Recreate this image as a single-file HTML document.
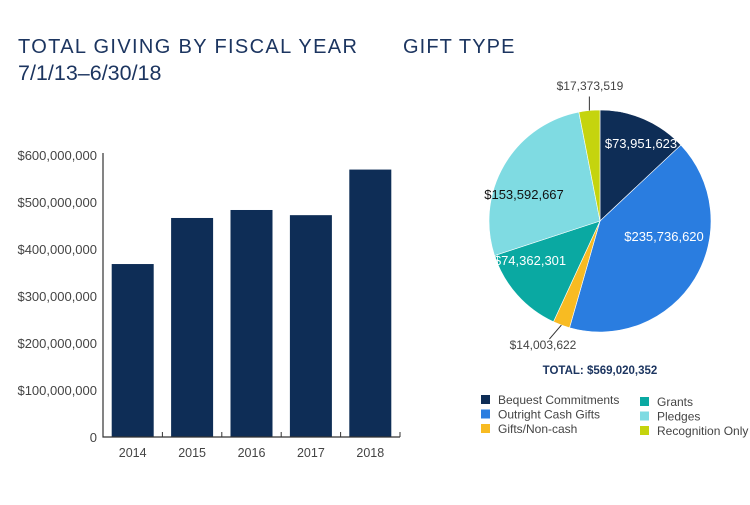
<!DOCTYPE html>
<html><head><meta charset="utf-8"><style>
body{margin:0;width:750px;height:500px;background:#fff;overflow:hidden;font-family:"Liberation Sans",sans-serif}
</style></head><body>
<svg width="750" height="500" style="font-family:'Liberation Sans',sans-serif">
<text x="18" y="53" font-size="20" fill="#1c3560" letter-spacing="1.35">TOTAL GIVING BY FISCAL YEAR</text>
<text x="18" y="80" font-size="21.5" fill="#1c3560">7/1/13–6/30/18</text>
<text x="403" y="53" font-size="20" fill="#1c3560" letter-spacing="1.1">GIFT TYPE</text>
<g id="bars"></g>
<g id="pie"></g>
<text x="600" y="374" font-size="11.5" font-weight="bold" fill="#1c3560" text-anchor="middle">TOTAL: $569,020,352</text>
<g id="legend"></g>
</svg>
<script>
const years=["2014","2015","2016","2017","2018"];
const totals=[368,466,483,472,569];
const yTicks=[0,100,200,300,400,500,600];
const yTickLabels=["0","$100,000,000","$200,000,000","$300,000,000","$400,000,000","$500,000,000","$600,000,000"];
const giftTypes=["Bequest Commitments","Outright Cash Gifts","Gifts/Non-cash","Grants","Pledges","Recognition Only"];
const giftValues=[73951623,235736620,14003622,74362301,153592667,17373519];
const giftLabels=["$73,951,623","$235,736,620","$14,003,622","$74,362,301","$153,592,667","$17,373,519"];
const giftColors=["#0e2d56","#2a7de0","#f8bb22","#0aa9a2","#7fdbe2","#c5d40e"];
const NS="http://www.w3.org/2000/svg";
function mk(t,a,p,txt){const e=document.createElementNS(NS,t);for(const k in a)e.setAttribute(k,a[k]);if(txt!==undefined)e.textContent=txt;p.appendChild(e);return e;}
const y0=437,yTop=155,xL=103,xR=400;
const ys=v=>y0-(v/600)*(y0-yTop);
const band=(xR-xL)/years.length;
const xc=i=>xL+band*(i+0.5);
const bars=document.getElementById('bars');
yTicks.forEach((t,i)=>{const l=mk('text',{x:97,y:ys(t)+5,'font-size':13,fill:'#444','text-anchor':'end'},bars,yTickLabels[i]);

});
totals.forEach((v,i)=>{const r=mk('rect',{x:xc(i)-21,y:ys(v),width:42,height:y0-ys(v),fill:'#0e2d56'},bars);


const l=mk('text',{x:xc(i),y:457,'font-size':12.5,fill:'#444','text-anchor':'middle'},bars,years[i]);


if(i>0){mk('line',{x1:xL+band*i,x2:xL+band*i,y1:y0,y2:y0-5,stroke:'#333','stroke-width':1},bars);}
});
mk('line',{x1:xR,x2:xR,y1:y0,y2:y0-5,stroke:'#333'},bars);
const ax=mk('path',{d:`M${xL} ${yTop-2}V${y0}H${xR}`,fill:'none',stroke:'#333','stroke-width':1.2},bars);


const pie=document.getElementById('pie');
const cx=600,cy=221,R=111;
const sum=giftValues.reduce((a,b)=>a+b,0);
let a0=0;
const pt=(a,r)=>[cx+r*Math.sin(a),cy-r*Math.cos(a)];
const mids=[];
giftValues.forEach((v,i)=>{const a1=a0+v/sum*2*Math.PI;const [x0,y0_]=pt(a0,R),[x1,y1]=pt(a1,R);
const p=mk('path',{d:`M${cx} ${cy}L${x0} ${y0_}A${R} ${R} 0 ${a1-a0>Math.PI?1:0} 1 ${x1} ${y1}Z`,fill:giftColors[i],stroke:'#fff','stroke-width':0.6},pie);


mids.push((a0+a1)/2);a0=a1;});
const inside=[[641,148,'#fff'],[664,241,'#fff'],[530,265,'#fff'],[524,199,'#111']];
[[0,0],[1,1],[3,2],[4,3]].forEach(([gi,k])=>{const t=mk('text',{x:inside[k][0],y:inside[k][1],'font-size':13,fill:inside[k][2],'text-anchor':'middle'},pie,giftLabels[gi]);

});
let [lx,ly]=pt(mids[2],R);
mk('line',{x1:lx,y1:ly,x2:lx-12,y2:ly+14,stroke:'#333'},pie);
let t1=mk('text',{x:543,y:349,'font-size':12,fill:'#444','text-anchor':'middle'},pie,giftLabels[2]);


[lx,ly]=pt(mids[5],R);
mk('line',{x1:lx,y1:ly,x2:lx,y2:ly-14,stroke:'#333'},pie);
let t2=mk('text',{x:590,y:90,'font-size':12,fill:'#444','text-anchor':'middle'},pie,giftLabels[5]);


const lg=document.getElementById('legend');
giftTypes.forEach((g,i)=>{const col=i<3?0:1,row=i%3;const x=col?640:481,y=(col?397:395)+row*14.5;
const e=mk('g',{},lg);


mk('rect',{x:x,y:y,width:9,height:9,fill:giftColors[i]},e);
mk('text',{x:x+17,y:y+9,'font-size':12,fill:'#444'},e,g);});
</script>
</body></html>
